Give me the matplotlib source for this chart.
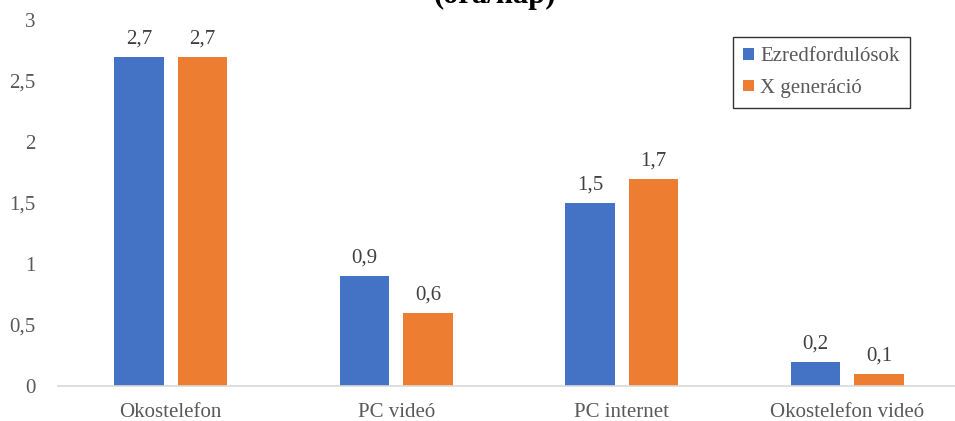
import numpy as np
import matplotlib.pyplot as plt

categories = ['Okostelefon', 'PC videó', 'PC internet', 'Okostelefon videó']
millennials = [2.7, 0.9, 1.5, 0.2]
gen_x = [2.7, 0.6, 1.7, 0.1]
series_names = ['Ezredfordulósok', 'X generáció']
y_ticks = [0, 0.5, 1, 1.5, 2, 2.5, 3]
y_tick_labels = ['0', '0,5', '1', '1,5', '2', '2,5', '3']

blue = '#4472C4'
orange = '#ED7D31'

plt.rcParams['font.family'] = ['Liberation Serif', 'DejaVu Serif']

fig = plt.figure(figsize=(9.55, 4.21), dpi=100)
ax = fig.add_axes([58 / 955, 1 - 386 / 421, 902 / 955, 366 / 421])

x = np.arange(len(categories))
w = 0.22
off = 0.14
b1 = ax.bar(x - off, millennials, w, color=blue, label=series_names[0])
b2 = ax.bar(x + off, gen_x, w, color=orange, label=series_names[1])

def fmt(v):
    return f'{v:.1f}'.replace('.', ',')

for bars, vals in ((b1, millennials), (b2, gen_x)):
    for bar, v in zip(bars, vals):
        ax.annotate(fmt(v), (bar.get_x() + bar.get_width() / 2, v),
                    xytext=(0, 6), textcoords='offset points',
                    ha='center', va='bottom', fontsize=15, color='#404040')

ax.set_xlim(-0.5, len(categories) - 0.5)
ax.set_ylim(0, 3)
ax.set_yticks(y_ticks)
ax.set_yticklabels(y_tick_labels)
ax.set_xticks(x)
ax.set_xticklabels(categories)
ax.tick_params(axis='both', length=0, labelsize=15, labelcolor='#595959')
ax.tick_params(axis='y', pad=16)
ax.tick_params(axis='x', pad=12)

for s in ('top', 'right', 'left'):
    ax.spines[s].set_visible(False)
ax.spines['bottom'].set_color('#D9D9D9')
ax.spines['bottom'].set_linewidth(1.2)

leg = ax.legend(loc='upper left', bbox_to_anchor=((733 - 58) / 902, (386 - 37) / 366),
                frameon=True, fancybox=False, edgecolor='black', fontsize=15,
                handlelength=0.5, handleheight=0.5, handletextpad=0.3,
                borderpad=0.5, labelspacing=0.6, borderaxespad=0)
leg.get_frame().set_linewidth(1.0)
for t in leg.get_texts():
    t.set_color('#595959')

# chart title sits partly above the top edge
fig.text(495 / 955, 1.0 + 5 / 421, '(óra/nap)', ha='center', va='center',
         fontsize=22, fontweight='bold', color='black')

fig.savefig('out.png', dpi=100)
